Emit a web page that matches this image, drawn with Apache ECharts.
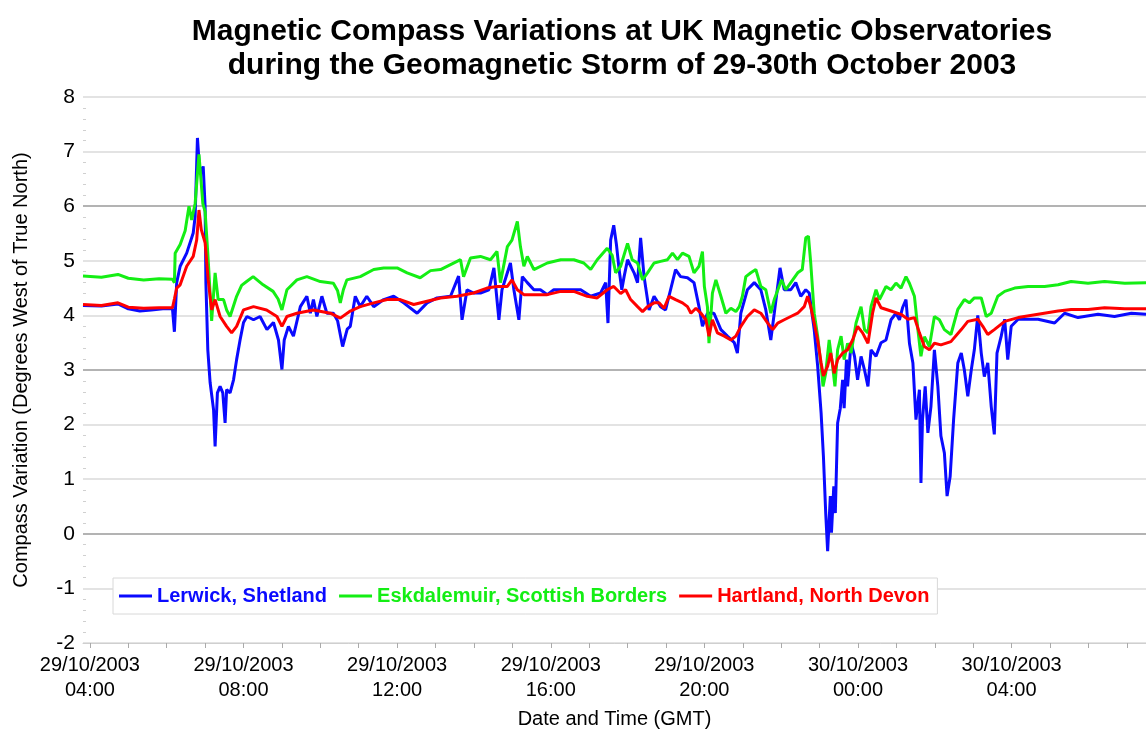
<!DOCTYPE html>
<html>
<head>
<meta charset="utf-8">
<title>Magnetic Compass Variations</title>
<script src="https://cdn.jsdelivr.net/npm/echarts@6.0.0/dist/echarts.min.js"></script>
<style>
  html, body { margin: 0; padding: 0; background: #fff; }
  #chart { width: 1146px; height: 736px; }
</style>
</head>
<body>
<div id="chart"></div>
<script>
// hours are counted from 29/10/2003 00:00 GMT
const seriesNames = ['Lerwick, Shetland', 'Eskdalemuir, Scottish Borders', 'Hartland, North Devon']
const seriesColors = ['#0a0aff', '#14ee14', '#ff0000']
const xLabelHours = [4, 8, 12, 16, 20, 24, 28]
const yTicks = [-2, -1, 0, 1, 2, 3, 4, 5, 6, 7, 8]

const lerwickHours = [
  3.82, 4.3, 4.73, 5.0, 5.3, 5.6, 5.9, 6.15, 6.2, 6.26, 6.35, 6.52, 6.69, 6.74, 6.8, 6.85, 6.91, 6.95, 7.0, 7.02,
  7.07, 7.13, 7.22, 7.26, 7.32, 7.39, 7.46, 7.52, 7.56, 7.65, 7.74, 7.82, 7.91, 8.0, 8.09, 8.26, 8.43, 8.61, 8.78, 8.91,
  9.0, 9.06, 9.17, 9.3, 9.48, 9.65, 9.74, 9.82, 9.91, 10.04, 10.17, 10.34, 10.45, 10.58, 10.7, 10.78, 10.91, 11.04, 11.21, 11.39,
  11.65, 11.91, 12.17, 12.52, 12.78, 13.04, 13.39, 13.6, 13.69, 13.82, 13.99, 14.17, 14.39, 14.52, 14.65, 14.73, 14.95, 15.04, 15.17, 15.26,
  15.39, 15.56, 15.73, 15.91, 16.08, 16.43, 16.78, 17.04, 17.3, 17.43, 17.49, 17.56, 17.64, 17.71, 17.78, 17.85, 17.91, 18.0, 18.17, 18.26,
  18.34, 18.43, 18.56, 18.69, 18.86, 18.99, 19.12, 19.25, 19.38, 19.56, 19.73, 19.86, 19.95, 20.08, 20.25, 20.43, 20.6, 20.78, 20.86, 20.95,
  21.12, 21.3, 21.47, 21.6, 21.73, 21.82, 21.97, 22.08, 22.25, 22.38, 22.51, 22.64, 22.73, 22.86, 22.95, 23.04, 23.1, 23.16, 23.21, 23.28,
  23.31, 23.37, 23.41, 23.47, 23.54, 23.6, 23.64, 23.7, 23.73, 23.82, 23.91, 23.99, 24.08, 24.17, 24.26, 24.34, 24.47, 24.6, 24.73, 24.86,
  24.99, 25.08, 25.16, 25.25, 25.34, 25.43, 25.51, 25.6, 25.64, 25.68, 25.75, 25.82, 25.9, 25.99, 26.08, 26.16, 26.25, 26.32, 26.4, 26.49,
  26.6, 26.69, 26.77, 26.86, 26.95, 27.03, 27.12, 27.21, 27.29, 27.38, 27.47, 27.55, 27.62, 27.73, 27.82, 27.9, 27.99, 28.17, 28.43, 28.69,
  29.12, 29.38, 29.73, 30.25, 30.68, 31.12, 31.5
]
const lerwickDeg = [
  4.18, 4.17, 4.21, 4.12, 4.08, 4.1, 4.12, 4.12, 3.7, 4.6, 4.9, 5.14, 5.51, 5.81, 7.25, 6.73, 6.61, 6.73, 5.99, 4.6,
  3.37, 2.77, 2.27, 1.6, 2.58, 2.7, 2.58, 2.03, 2.64, 2.58, 2.82, 3.19, 3.55, 3.87, 3.98, 3.92, 3.98, 3.74, 3.87, 3.55,
  3.01, 3.55, 3.8, 3.62, 4.16, 4.35, 4.04, 4.29, 3.98, 4.35, 4.04, 4.04, 3.9, 3.43, 3.75, 3.8, 4.35, 4.16, 4.35, 4.16,
  4.29, 4.35, 4.23, 4.04, 4.23, 4.32, 4.35, 4.72, 3.92, 4.47, 4.41, 4.41, 4.47, 4.87, 3.92, 4.47, 4.96, 4.47, 3.92, 4.71,
  4.6, 4.47, 4.47, 4.38, 4.47, 4.47, 4.47, 4.35, 4.41, 4.6, 3.86, 5.38, 5.65, 5.3, 4.84, 4.47, 4.71, 5.02, 4.78, 4.6,
  5.42, 4.71, 4.1, 4.35, 4.16, 4.1, 4.47, 4.84, 4.71, 4.69, 4.6, 4.16, 3.8, 4.04, 4.04, 3.74, 3.62, 3.5, 3.31, 4.04,
  4.47, 4.6, 4.47, 4.1, 3.55, 4.04, 4.87, 4.47, 4.47, 4.6, 4.35, 4.47, 4.41, 3.74, 3.07, 2.21, 1.42, 0.38, -0.32, 0.69,
  0.02, 0.87, 0.38, 2.03, 2.3, 2.82, 2.3, 3.19, 2.7, 3.5, 3.25, 2.82, 3.25, 3.0, 2.7, 3.37, 3.25, 3.5, 3.55, 3.92,
  4.04, 3.92, 4.14, 4.29, 3.49, 3.13, 2.09, 2.64, 0.93, 2.09, 2.7, 1.85, 2.33, 3.37, 2.7, 1.79, 1.48, 0.69, 1.05, 2.09,
  3.13, 3.31, 3.0, 2.52, 3.0, 3.37, 4.0, 3.31, 2.88, 3.13, 2.33, 1.82, 3.31, 3.62, 3.93, 3.19, 3.8, 3.93, 3.93, 3.93,
  3.86, 4.04, 3.96, 4.02, 3.98, 4.04, 4.02
]

const eskdalemuirHours = [
  3.82, 4.3, 4.73, 5.0, 5.4, 5.8, 6.15, 6.2, 6.22, 6.35, 6.48, 6.58, 6.65, 6.74, 6.79, 6.84, 6.89, 6.94, 7.0, 7.08,
  7.17, 7.26, 7.34, 7.48, 7.56, 7.65, 7.82, 7.95, 8.08, 8.25, 8.51, 8.77, 8.9, 9.0, 9.13, 9.39, 9.65, 10.0, 10.34, 10.45,
  10.52, 10.6, 10.69, 11.04, 11.39, 11.65, 12.0, 12.26, 12.6, 12.87, 13.13, 13.39, 13.65, 13.73, 13.91, 14.17, 14.43, 14.6, 14.69, 14.87,
  14.99, 15.13, 15.21, 15.3, 15.39, 15.56, 15.91, 16.26, 16.6, 16.86, 17.04, 17.21, 17.47, 17.6, 17.69, 17.82, 18.0, 18.12, 18.26, 18.39,
  18.52, 18.69, 18.86, 19.04, 19.17, 19.3, 19.43, 19.6, 19.73, 19.86, 19.95, 20.0, 20.08, 20.12, 20.21, 20.3, 20.43, 20.56, 20.69, 20.82,
  20.91, 20.99, 21.08, 21.21, 21.34, 21.47, 21.6, 21.73, 21.82, 22.01, 22.12, 22.25, 22.43, 22.55, 22.64, 22.71, 22.77, 22.86, 22.95, 23.04,
  23.09, 23.16, 23.25, 23.34, 23.4, 23.47, 23.56, 23.64, 23.73, 23.82, 23.95, 24.08, 24.17, 24.26, 24.34, 24.47, 24.56, 24.73, 24.86, 24.99,
  25.12, 25.25, 25.34, 25.47, 25.56, 25.64, 25.73, 25.86, 25.99, 26.12, 26.25, 26.42, 26.6, 26.77, 26.9, 27.03, 27.21, 27.34, 27.47, 27.64,
  27.82, 28.08, 28.43, 28.86, 29.21, 29.55, 29.99, 30.42, 30.95, 31.5
]
const eskdalemuirDeg = [
  4.72, 4.7, 4.75, 4.68, 4.65, 4.67, 4.66, 4.6, 5.14, 5.3, 5.55, 6.0, 5.75, 6.05, 6.5, 6.95, 6.5, 6.05, 5.9, 5.02,
  3.9, 4.78, 4.29, 4.29, 4.1, 3.98, 4.35, 4.55, 4.62, 4.71, 4.56, 4.44, 4.3, 4.1, 4.47, 4.65, 4.71, 4.62, 4.59, 4.45,
  4.23, 4.47, 4.65, 4.71, 4.84, 4.87, 4.87, 4.78, 4.69, 4.82, 4.84, 4.93, 5.02, 4.71, 5.05, 5.08, 5.02, 5.17, 4.6, 5.26,
  5.38, 5.72, 5.26, 4.9, 5.08, 4.84, 4.96, 5.02, 5.02, 4.96, 4.84, 5.02, 5.23, 5.1, 4.78, 4.9, 5.32, 5.02, 4.96, 4.65,
  4.78, 4.96, 4.99, 5.02, 5.14, 5.02, 5.14, 5.08, 4.78, 4.9, 5.17, 4.53, 4.16, 3.49, 4.41, 4.65, 4.35, 4.04, 4.13, 4.07,
  4.16, 4.35, 4.71, 4.78, 4.84, 4.53, 4.47, 4.04, 4.29, 4.65, 4.47, 4.6, 4.78, 4.84, 5.42, 5.45, 4.96, 4.04, 3.62, 3.07,
  2.7, 2.94, 3.55, 3.07, 2.7, 3.37, 3.62, 3.19, 3.49, 3.31, 3.86, 4.16, 3.74, 3.68, 4.16, 4.47, 4.29, 4.53, 4.47, 4.59,
  4.5, 4.71, 4.59, 4.35, 3.74, 3.25, 3.61, 3.43, 3.98, 3.92, 3.74, 3.65, 4.11, 4.29, 4.23, 4.32, 4.32, 3.98, 4.04, 4.35,
  4.44, 4.5, 4.53, 4.53, 4.56, 4.62, 4.59, 4.62, 4.59, 4.6
]

const hartlandHours = [
  3.82, 4.3, 4.73, 5.0, 5.4, 5.8, 6.15, 6.2, 6.26, 6.35, 6.52, 6.69, 6.78, 6.84, 6.9, 7.0, 7.08, 7.17, 7.26, 7.39,
  7.56, 7.69, 7.82, 8.0, 8.26, 8.6, 8.87, 9.0, 9.13, 9.39, 9.82, 10.26, 10.52, 10.78, 11.04, 11.39, 11.74, 12.08, 12.43, 12.78,
  13.13, 13.56, 13.99, 14.34, 14.6, 14.87, 14.99, 15.13, 15.3, 15.56, 15.91, 16.26, 16.6, 16.95, 17.21, 17.47, 17.64, 17.82, 17.95, 18.08,
  18.26, 18.39, 18.52, 18.69, 18.82, 18.95, 19.08, 19.25, 19.43, 19.56, 19.65, 19.78, 19.91, 20.04, 20.12, 20.21, 20.34, 20.52, 20.69, 20.82,
  20.95, 21.12, 21.3, 21.47, 21.65, 21.78, 21.91, 22.08, 22.25, 22.43, 22.6, 22.69, 22.77, 22.86, 22.95, 23.04, 23.1, 23.21, 23.29, 23.38,
  23.47, 23.6, 23.73, 23.86, 23.99, 24.12, 24.26, 24.38, 24.47, 24.6, 24.86, 25.12, 25.3, 25.47, 25.6, 25.73, 25.86, 25.99, 26.16, 26.42,
  26.69, 26.86, 27.12, 27.25, 27.38, 27.55, 27.82, 28.17, 28.69, 29.21, 29.55, 29.99, 30.42, 30.95, 31.5
]
const hartlandDeg = [
  4.2, 4.18, 4.23, 4.15, 4.13, 4.14, 4.14, 4.3, 4.5, 4.56, 4.9, 5.08, 5.38, 5.93, 5.57, 5.33, 4.65, 4.1, 4.29, 3.98,
  3.8, 3.68, 3.8, 4.1, 4.16, 4.1, 3.98, 3.8, 3.98, 4.04, 4.1, 4.04, 3.95, 4.08, 4.16, 4.23, 4.29, 4.29, 4.2, 4.26,
  4.32, 4.35, 4.41, 4.5, 4.53, 4.53, 4.65, 4.47, 4.38, 4.38, 4.38, 4.44, 4.44, 4.35, 4.32, 4.47, 4.53, 4.4, 4.47, 4.29,
  4.16, 4.07, 4.16, 4.23, 4.23, 4.13, 4.35, 4.29, 4.23, 4.16, 4.04, 4.13, 4.04, 3.92, 3.62, 3.92, 3.68, 3.62, 3.55, 3.62,
  3.8, 3.98, 4.1, 4.04, 3.86, 3.74, 3.86, 3.92, 3.98, 4.04, 4.16, 4.35, 4.16, 3.86, 3.55, 3.13, 2.89, 3.07, 3.31, 2.94,
  3.19, 3.31, 3.37, 3.55, 3.8, 3.68, 3.49, 4.04, 4.32, 4.14, 4.08, 4.02, 3.93, 3.96, 3.68, 3.43, 3.37, 3.49, 3.46, 3.52,
  3.74, 3.89, 3.93, 3.8, 3.65, 3.74, 3.89, 3.96, 4.02, 4.08, 4.11, 4.11, 4.14, 4.12, 4.12
]

const fontFamily = 'Arial, "Liberation Sans", sans-serif'

function pairs(hours, values) {
  return hours.map((h, i) => [h, values[i]])
}

function hourLabel(h) {
  const day = 29 + Math.floor(h / 24)
  const hh = String(Math.round(h % 24)).padStart(2, '0')
  return day + '/10/2003\n' + hh + ':00'
}

const allHours = []
for (let h = 4; h <= 31; h++) allHours.push(h)

const chart = echarts.init(document.getElementById('chart'), null, { renderer: 'canvas' })

const seriesData = [
  pairs(lerwickHours, lerwickDeg),
  pairs(eskdalemuirHours, eskdalemuirDeg),
  pairs(hartlandHours, hartlandDeg)
]

chart.setOption({
  backgroundColor: '#fff',
  animation: false,
  title: {
    text: 'Magnetic Compass Variations at UK Magnetic Observatories\nduring the Geomagnetic Storm of 29-30th October 2003',
    left: 617,
    top: 10,
    textAlign: 'center',
    textStyle: {
      fontFamily: fontFamily,
      fontSize: 30,
      fontWeight: 'bold',
      lineHeight: 34,
      color: '#000'
    }
  },
  legend: {
    left: 113,
    top: 578,
    padding: [8, 8, 8, 6],
    itemGap: 12,
    itemWidth: 33,
    itemHeight: 3,
    icon: 'rect',
    backgroundColor: '#fff',
    borderColor: '#d8d8d8',
    borderWidth: 1,
    textStyle: { fontFamily: fontFamily, fontSize: 20, fontWeight: 'bold' },
    data: seriesNames.map((name, i) => ({ name: name, textStyle: { color: seriesColors[i] } }))
  },
  grid: {
    left: 83,
    right: 0,
    top: 97,
    bottom: 93
  },
  xAxis: {
    type: 'value',
    min: 3.82,
    max: 31.5,
    name: 'Date and Time (GMT)',
    nameLocation: 'middle',
    nameGap: 66,
    nameTextStyle: { fontFamily: fontFamily, fontSize: 20, color: '#000' },
    axisLine: { show: true, onZero: false, lineStyle: { color: '#cfcfcf', width: 1 } },
    axisTick: {
      show: true,
      customValues: allHours,
      length: 5,
      lineStyle: { color: '#aaa' }
    },
    axisLabel: {
      customValues: xLabelHours,
      fontFamily: fontFamily,
      fontSize: 20,
      lineHeight: 25,
      color: '#000',
      margin: 10,
      formatter: hourLabel
    },
    splitLine: { show: false }
  },
  yAxis: {
    type: 'value',
    min: yTicks[0],
    max: yTicks[yTicks.length - 1],
    interval: 1,
    name: 'Compass Variation (Degrees West of True North)',
    nameLocation: 'middle',
    nameGap: 52,
    nameTextStyle: { fontFamily: fontFamily, fontSize: 20, color: '#000' },
    axisLine: { show: false },
    axisTick: { show: true, inside: true, length: 0 },
    minorTick: { show: true, splitNumber: 5, length: 3, lineStyle: { color: '#d0d0d0' } },
    axisLabel: {
      fontFamily: fontFamily,
      fontSize: 21,
      color: '#000',
      margin: 8
    },
    splitLine: {
      show: true,
      lineStyle: { color: ['#dadada', '#dadada', '#9a9a9a'], width: 1.5 }
    }
  },
  series: seriesNames.map((name, i) => ({
    name: name,
    type: 'line',
    symbol: 'none',
    data: seriesData[i],
    lineStyle: { color: seriesColors[i], width: 3 },
    itemStyle: { color: seriesColors[i] },
    z: 2 + i
  }))
})
</script>
</body>
</html>
